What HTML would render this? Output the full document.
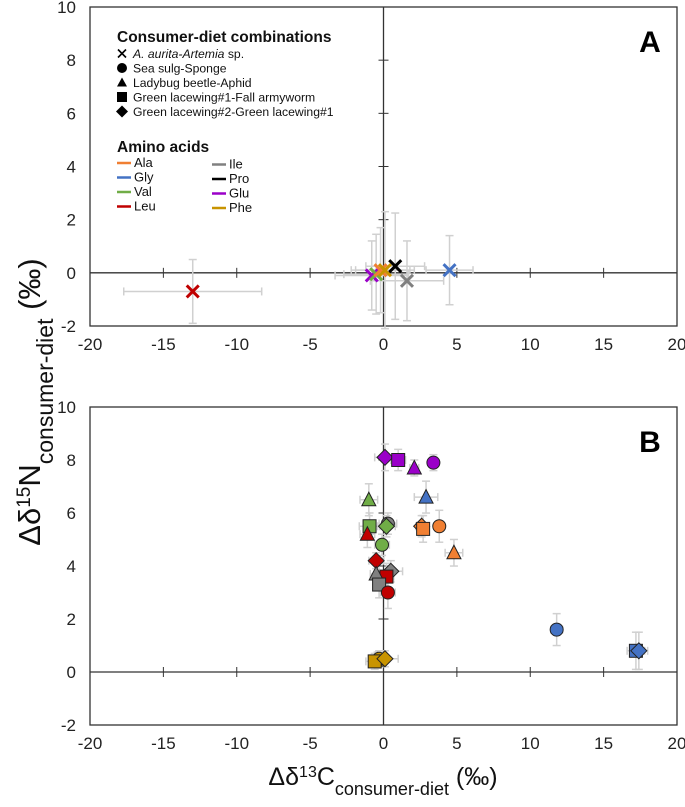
<!DOCTYPE html>
<html><head><meta charset="utf-8">
<style>
body{margin:0;background:#fff;font-family:"Liberation Sans",Arial,sans-serif;}
svg text{font-family:"Liberation Sans",Arial,sans-serif;}
</style></head>
<body>
<svg id="chart" width="685" height="802" xmlns="http://www.w3.org/2000/svg"></svg>
<script>
// Panel A data (x = Δδ13C, y = Δδ15N)
const aAminoAcids = ["Leu","Glu","Val","Ala","Phe","Pro","Ile","Gly"];
const aX  = [-13, -0.8, -0.5, -0.2, 0.1, 0.8, 1.6, 4.5];
const aY  = [-0.7, -0.1, -0.05, 0.1, 0.1, 0.25, -0.3, 0.1];
const aEx = [4.7, 2.5, 2.2, 2.0, 2.0, 2.0, 2.5, 1.6];
const aEy = [1.2, 1.3, 1.5, 1.6, 2.2, 2.0, 1.5, 1.3];
// Panel B data
const bAminoAcids = ["Glu","Glu","Glu","Glu","Gly","Val","Val","Ile","Val","Leu","Val","Ala","Ala","Ala","Ala","Leu","Ile","Leu","Ile","Ile","Leu","Phe","Phe","Phe","Phe","Gly","Gly","Gly"];
const bShapes = ["diamond","square","triangle","circle","triangle","triangle","square","circle","diamond","triangle","circle","diamond","square","circle","triangle","diamond","diamond","square","triangle","square","circle","triangle","circle","square","diamond","circle","square","diamond"];
const bX  = [0.1,1.0,2.1,3.4,2.9,-1.0,-0.95,0.3,0.2,-1.1,-0.1,2.6,2.7,3.8,4.8,-0.5,0.5,0.2,-0.5,-0.3,0.3,-0.4,-0.3,-0.6,0.1,11.8,17.2,17.4];
const bY  = [8.1,8.0,7.7,7.9,6.6,6.5,5.5,5.6,5.5,5.2,4.8,5.5,5.4,5.5,4.5,4.2,3.8,3.6,3.7,3.3,3.0,0.45,0.5,0.4,0.5,1.6,0.8,0.8];
const bEx = [0.7,0.5,0.3,0.3,0.8,0.6,0.7,0.6,0.6,0.5,0.5,0.4,0.4,0.3,0.6,0.5,0.8,0.5,0.4,0.4,0.5,0.5,0.6,0.6,0.9,0.4,0.6,0.6];
const bEy = [0.5,0.4,0.3,0.3,0.6,0.6,0.5,0.4,0.4,0.5,0.4,0.4,0.5,0.6,0.5,0.3,0.4,0.5,0.4,0.5,0.6,0.3,0.3,0.3,0.3,0.6,0.7,0.7];
const xTicks = [-20,-15,-10,-5,0,5,10,15,20];
const yTicks = [-2,0,2,4,6,8,10];

const colors={Ala:"#f07f32",Gly:"#4472c4",Val:"#70ad47",Leu:"#c00000",Ile:"#808080",Pro:"#000000",Glu:"#9a00c8",Phe:"#c89400"};
const NS="http://www.w3.org/2000/svg";
const svg=document.getElementById("chart");
function mk(tag,attrs,parent){const e=document.createElementNS(NS,tag);for(const k in attrs)e.setAttribute(k,attrs[k]);(parent||svg).appendChild(e);return e;}
const L=90,R=677;
function sx(v){return L+(v+20)/40*(R-L);}
function panel(top,bottom){return {sy:v=>bottom-(v+2)/12*(bottom-top),top,bottom};}
const PA=panel(7,326), PB=panel(407,725);

function drawAxes(P,label,name){
  const g=mk("g",{});
  
  
  mk("rect",{x:L,y:P.top,width:R-L,height:P.bottom-P.top,fill:"none",stroke:"#333","stroke-width":1.3},g);
  const y0=P.sy(0),x0=sx(0);
  mk("line",{x1:L,x2:R,y1:y0,y2:y0,stroke:"#333","stroke-width":1.3},g);
  mk("line",{x1:x0,x2:x0,y1:P.top,y2:P.bottom,stroke:"#333","stroke-width":1.3},g);
  xTicks.forEach(t=>{
    mk("line",{x1:sx(t),x2:sx(t),y1:y0-5,y2:y0+5,stroke:"#333","stroke-width":1},g);
    const tx=mk("text",{x:sx(t),y:P.bottom+24,"text-anchor":"middle","font-size":17,fill:"#222"},g);
    tx.textContent=t;
    
    
  });
  yTicks.forEach(t=>{
    mk("line",{x1:x0-5,x2:x0+5,y1:P.sy(t),y2:P.sy(t),stroke:"#333","stroke-width":1},g);
    const ty=mk("text",{x:76,y:P.sy(t)+6,"text-anchor":"end","font-size":17,fill:"#222"},g);
    ty.textContent=t;
    
    
  });
  const pl=mk("text",{x:650,y:P.top+45,"text-anchor":"middle","font-size":30,"font-weight":"bold",fill:"#000"},g);
  pl.textContent=label;
  
  
}
function errbar(g,cx,cy,dx,dy){
  const st={stroke:"#d0d0d0","stroke-width":1.5};
  mk("line",Object.assign({x1:cx-dx,x2:cx+dx,y1:cy,y2:cy},st),g);
  mk("line",Object.assign({x1:cx-dx,x2:cx-dx,y1:cy-4,y2:cy+4},st),g);
  mk("line",Object.assign({x1:cx+dx,x2:cx+dx,y1:cy-4,y2:cy+4},st),g);
  mk("line",Object.assign({x1:cx,x2:cx,y1:cy-dy,y2:cy+dy},st),g);
  mk("line",Object.assign({x1:cx-4,x2:cx+4,y1:cy-dy,y2:cy-dy},st),g);
  mk("line",Object.assign({x1:cx-4,x2:cx+4,y1:cy+dy,y2:cy+dy},st),g);
}
function shape(g,s,cx,cy,fill){
  const a={fill:fill,stroke:"#222","stroke-width":1};
  if(s==="circle")return mk("circle",Object.assign({cx,cy,r:6.5},a),g);
  if(s==="square")return mk("rect",Object.assign({x:cx-6.5,y:cy-6.5,width:13,height:13},a),g);
  if(s==="triangle")return mk("polygon",Object.assign({points:`${cx},${cy-7.5} ${cx+7},${cy+6} ${cx-7},${cy+6}`},a),g);
  return mk("polygon",Object.assign({points:`${cx},${cy-8} ${cx+8},${cy} ${cx},${cy+8} ${cx-8},${cy}`},a),g);
}
drawAxes(PA,"A","panel-a");
drawAxes(PB,"B","panel-b");
const uxs=(R-L)/40, uys=(PA.bottom-PA.top)/12;
const ga=mk("g",{});


aX.forEach((v,i)=>errbar(ga,sx(v),PA.sy(aY[i]),aEx[i]*uxs,aEy[i]*uys));
aX.forEach((v,i)=>{
  const cx=sx(v),cy=PA.sy(aY[i]),c=colors[aAminoAcids[i]];
  const p=mk("path",{d:`M${cx-6},${cy-6}L${cx+6},${cy+6}M${cx+6},${cy-6}L${cx-6},${cy+6}`,stroke:c,"stroke-width":3,fill:"none"},ga);
  
  
});
const gb=mk("g",{});


bX.forEach((v,i)=>errbar(gb,sx(v),PB.sy(bY[i]),bEx[i]*uxs,bEy[i]*uys));
bX.forEach((v,i)=>{
  const el=shape(gb,bShapes[i],sx(v),PB.sy(bY[i]),colors[bAminoAcids[i]]);
  
  
});
// Legend
const lg=mk("g",{});


function txt(x,y,s,size,bold,parent){const t=mk("text",{x,y,"font-size":size,"font-weight":bold?"bold":"normal",fill:"#111"},parent);t.innerHTML=s;return t;}
txt(117,42,"Consumer-diet combinations",15.5,true,lg);
const combos=[["x",'<tspan font-style="italic">A. aurita-Artemia</tspan> sp.'],["circle","Sea sulg-Sponge"],["triangle","Ladybug beetle-Aphid"],["square","Green lacewing#1-Fall armyworm"],["diamond","Green lacewing#2-Green lacewing#1"]];
combos.forEach((c,i)=>{
  const y=58+i*14.5;
  const e=mk("g",{},lg);
  
  
  const cx=122,cy=y-4.5;
  if(c[0]==="x")mk("path",{d:`M${cx-4},${cy-4}L${cx+4},${cy+4}M${cx+4},${cy-4}L${cx-4},${cy+4}`,stroke:"#000","stroke-width":1.6},e);
  else if(c[0]==="circle")mk("circle",{cx,cy,r:5,fill:"#000"},e);
  else if(c[0]==="triangle")mk("polygon",{points:`${cx},${cy-5} ${cx+5},${cy+4} ${cx-5},${cy+4}`,fill:"#000"},e);
  else if(c[0]==="square")mk("rect",{x:cx-5,y:cy-5,width:10,height:10,fill:"#000"},e);
  else mk("polygon",{points:`${cx},${cy-6} ${cx+6},${cy} ${cx},${cy+6} ${cx-6},${cy}`,fill:"#000"},e);
  txt(133,y,c[1],12.2,false,e);
});
txt(117,152,"Amino acids",15.5,true,lg);
const legAA=[["Ala",0,0],["Gly",0,1],["Val",0,2],["Leu",0,3],["Ile",1,0],["Pro",1,1],["Glu",1,2],["Phe",1,3]];
legAA.forEach(a=>{
  const x=a[1]?212:117, y=167+a[2]*14.5+(a[1]?1.5:0);
  const e=mk("g",{},lg);
  
  
  mk("line",{x1:x,x2:x+14,y1:y-4,y2:y-4,stroke:colors[a[0]],"stroke-width":2.5},e);
  txt(x+17,y,a[0],13,false,e);
});
// axis titles
const yt=mk("text",{transform:"translate(40,402) rotate(-90)","text-anchor":"middle","font-size":31,fill:"#111"});
yt.innerHTML='Δδ<tspan baseline-shift="super" font-size="19">15</tspan>N<tspan baseline-shift="sub" font-size="23">consumer-diet</tspan> (‰)';


const xt=mk("text",{x:383,y:785,"text-anchor":"middle","font-size":25,fill:"#111"});
xt.innerHTML='Δδ<tspan baseline-shift="super" font-size="16">13</tspan>C<tspan baseline-shift="sub" font-size="18">consumer-diet</tspan> (‰)';


</script>
</body></html>
